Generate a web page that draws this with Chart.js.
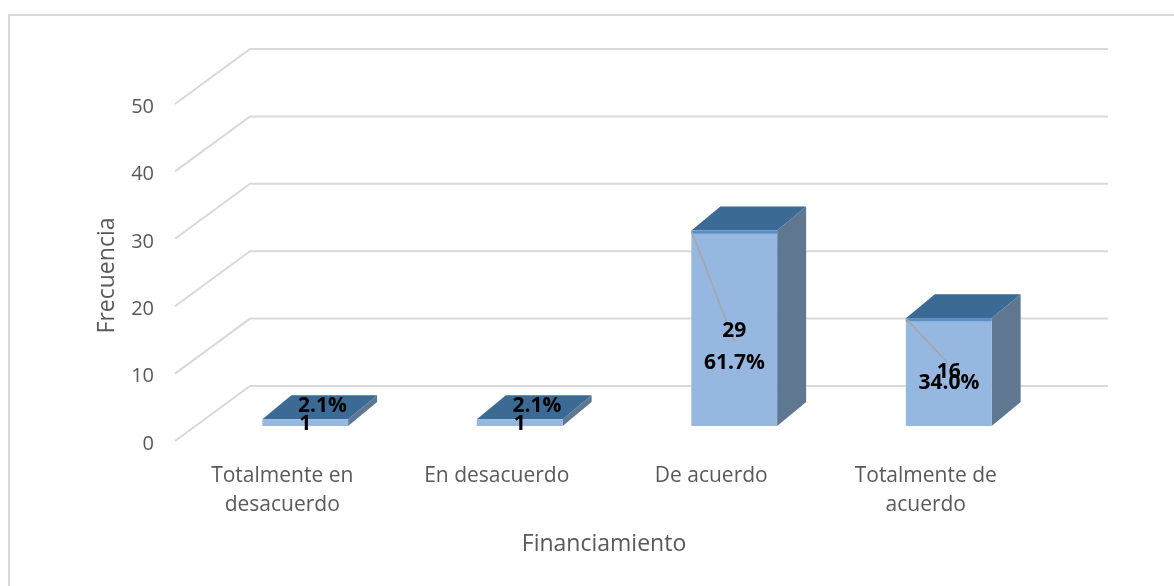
<!DOCTYPE html>
<html lang="en">
<head>
    <meta charset="UTF-8">
    <title>Financiamiento</title>
    <script src="https://cdn.jsdelivr.net/npm/chart.js"></script>
    <style>
        html, body { margin: 0; padding: 0; background: #fff; }
        canvas { display: block; }
    </style>
</head>
<body>
    <canvas id="chart" width="1174" height="586"></canvas>

    <script>
        const categories = [['Totalmente en', 'desacuerdo'], 'En desacuerdo', 'De acuerdo', ['Totalmente de', 'acuerdo']];
        const frequencies = [1, 1, 29, 16];
        const percents = ['2.1%', '2.1%', '61.7%', '34.0%'];
        const yTicks = [0, 10, 20, 30, 40, 50];

        // 3D look: the bars sit a bit inside the floor, the walls at the back of it
        const wall = { dx: 75, dy: -55 };
        const barShift = { dx: 23, dy: -15 };
        const barDepth = { dx: 29, dy: -24 };

        // where each pair of labels lands relative to the bar's front-top-left corner
        const valueLabelPos = [
            { dx: 43, dy: 5 }, { dx: 43, dy: 5 }, { dx: 43, dy: 100 }, { dx: 43, dy: 54 }
        ];
        const percentLabelPos = [
            { dx: 60, dy: -13 }, { dx: 60, dy: -13 }, { dx: 43, dy: 132 }, { dx: 43, dy: 65 }
        ];
        const leaderEnd = [null, null, { dx: 43, dy: 111 }, { dx: 43, dy: 46 }];

        const walls3d = {
            id: 'walls3d',
            beforeDatasetsDraw(chart) {
                const { ctx, chartArea, scales: { y } } = chart;
                ctx.save();
                ctx.strokeStyle = '#d9d9d9';
                ctx.lineWidth = 2;
                yTicks.forEach(v => {
                    const py = y.getPixelForValue(v);
                    ctx.beginPath();
                    ctx.moveTo(chartArea.left, py);
                    ctx.lineTo(chartArea.left + wall.dx, py + wall.dy);
                    ctx.lineTo(chartArea.right + wall.dx, py + wall.dy);
                    ctx.stroke();
                });
                ctx.restore();

                // side and top faces, then the front comes from Chart.js itself
                const meta = chart.getDatasetMeta(0);
                ctx.save();
                ctx.translate(barShift.dx, barShift.dy);
                meta.data.forEach(bar => {
                    const left = bar.x - bar.width / 2;
                    const right = bar.x + bar.width / 2;
                    ctx.fillStyle = '#5f7790';
                    ctx.beginPath();
                    ctx.moveTo(right, bar.y);
                    ctx.lineTo(right + barDepth.dx, bar.y + barDepth.dy);
                    ctx.lineTo(right + barDepth.dx, bar.base + barDepth.dy);
                    ctx.lineTo(right, bar.base);
                    ctx.closePath();
                    ctx.fill();
                    ctx.fillStyle = '#3b6a94';
                    ctx.beginPath();
                    ctx.moveTo(left, bar.y);
                    ctx.lineTo(left + barDepth.dx, bar.y + barDepth.dy);
                    ctx.lineTo(right + barDepth.dx, bar.y + barDepth.dy);
                    ctx.lineTo(right, bar.y);
                    ctx.closePath();
                    ctx.fill();
                });
                ctx.restore();

                ctx.save();
                ctx.translate(barShift.dx, barShift.dy);
            },
            afterDatasetsDraw(chart) {
                const { ctx } = chart;
                const meta = chart.getDatasetMeta(0);
                // pops the translate from beforeDatasetsDraw
                ctx.restore();

                ctx.save();
                ctx.translate(barShift.dx, barShift.dy);
                meta.data.forEach((bar, i) => {
                    const left = bar.x - bar.width / 2;
                    // darker rim only shows on the tall bars
                    if (leaderEnd[i]) {
                        ctx.fillStyle = '#5b8cc4';
                        ctx.fillRect(left, bar.y, bar.width, 3);
                        ctx.strokeStyle = '#a6a6a6';
                        ctx.lineWidth = 1.5;
                        ctx.beginPath();
                        ctx.moveTo(left, bar.y);
                        ctx.lineTo(left + leaderEnd[i].dx, bar.y + leaderEnd[i].dy);
                        ctx.stroke();
                    }
                    ctx.fillStyle = '#000';
                    ctx.font = 'bold 21px "Open Sans", sans-serif';
                    ctx.textAlign = 'center';
                    ctx.textBaseline = 'middle';
                    ctx.fillText(String(frequencies[i]), left + valueLabelPos[i].dx, bar.y + valueLabelPos[i].dy);
                    ctx.fillText(percents[i], left + percentLabelPos[i].dx, bar.y + percentLabelPos[i].dy);
                });
                ctx.restore();
            }
        };

        // only the left and top edges of the frame are inside the picture
        const frame = {
            id: 'frame',
            beforeDraw(chart) {
                const { ctx, width, height } = chart;
                ctx.save();
                ctx.strokeStyle = '#d9d9d9';
                ctx.lineWidth = 2;
                ctx.beginPath();
                ctx.moveTo(9, height);
                ctx.lineTo(9, 15);
                ctx.lineTo(width, 15);
                ctx.stroke();
                ctx.restore();
            }
        };

        new Chart(document.getElementById('chart').getContext('2d'), {
            type: 'bar',
            data: {
                labels: categories,
                datasets: [{
                    data: frequencies,
                    backgroundColor: '#95b7e0',
                    borderWidth: 0,
                    barPercentage: 0.8,
                    categoryPercentage: 0.5
                }]
            },
            options: {
                responsive: false,
                animation: false,
                layout: { padding: { left: 94, top: 104, right: 141, bottom: 28 } },
                plugins: { legend: { display: false }, tooltip: { enabled: false } },
                scales: {
                    x: {
                        grid: { display: false },
                        border: { display: false },
                        // fixed height, otherwise the two-line labels push the plot up
                        afterFit(axis) { axis.height = 117; axis.paddingLeft = 0; axis.paddingRight = 0; },
                        ticks: { color: '#595959', font: { family: '"Open Sans", sans-serif', size: 21, lineHeight: 1.38 }, maxRotation: 0, padding: 13 },
                        title: { display: true, text: 'Financiamiento', color: '#595959', font: { family: '"Open Sans", sans-serif', size: 23 }, padding: { top: 0, bottom: 0 } }
                    },
                    y: {
                        min: 0,
                        max: 50,
                        grid: { display: false },
                        border: { display: false },
                        afterFit(axis) { axis.width = 81; },
                        afterBuildTicks(axis) { axis.ticks = yTicks.map(v => ({ value: v })); },
                        // empty first line nudges the number 3px below the tick
                        ticks: { color: '#595959', font: { family: '"Open Sans", sans-serif', size: 20, lineHeight: 0.3 }, padding: 13, callback: v => ['', String(v)] },
                        title: { display: true, text: 'Frecuencia ', color: '#595959', font: { family: '"Open Sans", sans-serif', size: 23 }, padding: { top: 0, bottom: 10 } }
                    }
                }
            },
            plugins: [frame, walls3d]
        });
    </script>
</body>
</html>
